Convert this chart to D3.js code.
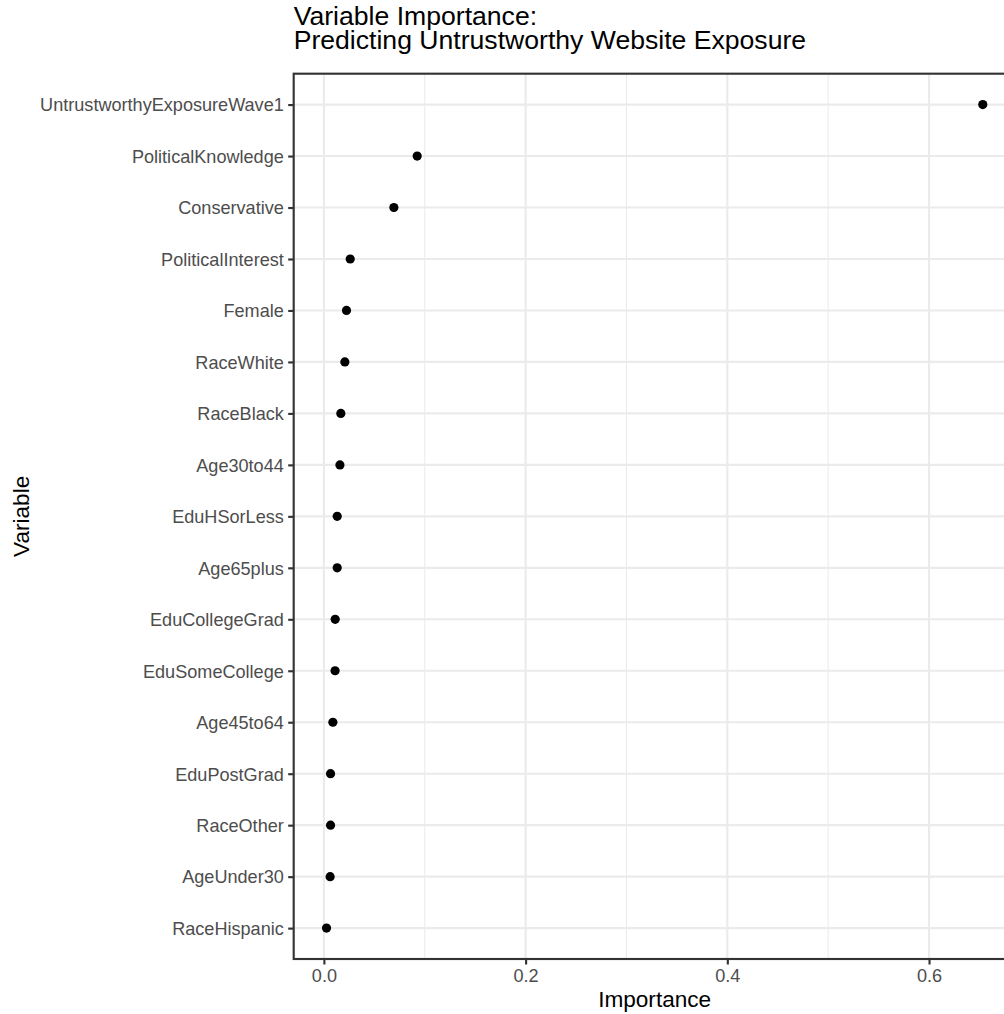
<!DOCTYPE html>
<html>
<head>
<meta charset="utf-8">
<script src="https://cdn.jsdelivr.net/npm/d3@7"></script>
<style>
  html, body { margin: 0; padding: 0; background: #fff; }
  svg { display: block; font-family: "Liberation Sans", Arial, Helvetica, sans-serif; }
</style>
</head>
<body>
<svg id="chart" width="1004" height="1014"></svg>
<script>
// Data (top to bottom)
const variables = [
  "UntrustworthyExposureWave1", "PoliticalKnowledge", "Conservative", "PoliticalInterest",
  "Female", "RaceWhite", "RaceBlack", "Age30to44", "EduHSorLess", "Age65plus",
  "EduCollegeGrad", "EduSomeCollege", "Age45to64", "EduPostGrad", "RaceOther",
  "AgeUnder30", "RaceHispanic"
];
const importance = [
  0.6533, 0.0925, 0.0694, 0.0261,
  0.0224, 0.0208, 0.0168, 0.0159, 0.0132, 0.0132,
  0.0112, 0.0111, 0.0089, 0.0066, 0.0066,
  0.0062, 0.0026
];
const xTicks = [0, 0.2, 0.4, 0.6];
const xMinorTicks = [0.1, 0.3, 0.5];
const titleLines = ["Variable Importance:", "Predicting Untrustworthy Website Exposure"];
const xTitle = "Importance";
const yTitle = "Variable";

const data = variables.map((v, i) => ({ variable: v, value: importance[i] }));

const svg = d3.select("#chart");
const panel = { left: 293.7, top: 73.7, right: 1015.6, bottom: 959 };

const lo = d3.min(importance), hi = d3.max(importance);
const pad = (hi - lo) * 0.05;
const x = d3.scaleLinear().domain([lo - pad, hi + pad]).range([panel.left, panel.right]);
const y = d3.scalePoint().domain(variables).range([panel.top, panel.bottom]).padding(0.6);

// panel background
svg.append("rect").attr("x", panel.left).attr("y", panel.top)
  .attr("width", panel.right - panel.left).attr("height", panel.bottom - panel.top)
  .attr("fill", "#fff");

const grid = svg.append("g");
grid.selectAll("line.minor").data(xMinorTicks).join("line")
  .attr("x1", d => x(d)).attr("x2", d => x(d))
  .attr("y1", panel.top).attr("y2", panel.bottom)
  .attr("stroke", "#EBEBEB").attr("stroke-width", 1.07);
grid.selectAll("line.majorx").data(xTicks).join("line")
  .attr("x1", d => x(d)).attr("x2", d => x(d))
  .attr("y1", panel.top).attr("y2", panel.bottom)
  .attr("stroke", "#EBEBEB").attr("stroke-width", 2.13);
grid.selectAll("line.majory").data(variables).join("line")
  .attr("x1", panel.left).attr("x2", panel.right)
  .attr("y1", d => y(d)).attr("y2", d => y(d))
  .attr("stroke", "#EBEBEB").attr("stroke-width", 2.13);

// points
svg.append("g").selectAll("circle").data(data).join("circle")
  .attr("cx", d => x(d.value)).attr("cy", d => y(d.variable))
  .attr("r", 4.6).attr("fill", "#000");

// panel border
svg.append("rect").attr("x", panel.left).attr("y", panel.top)
  .attr("width", panel.right - panel.left).attr("height", panel.bottom - panel.top)
  .attr("fill", "none").attr("stroke", "#333333").attr("stroke-width", 2.13);

// axes
const xAxis = d3.axisBottom(x).tickValues(xTicks).tickFormat(d3.format(".1f"))
  .tickSize(5.5).tickPadding(4.4);
const gx = svg.append("g").attr("transform", `translate(0,${panel.bottom})`).call(xAxis);
gx.select(".domain").remove();
gx.selectAll(".tick line").attr("stroke", "#333333").attr("stroke-width", 2.13);
gx.selectAll(".tick text").attr("fill", "#4D4D4D").attr("font-size", 18.1)
  .attr("font-family", "Liberation Sans, Arial, sans-serif").attr("dy", "0.71em");

const yAxis = d3.axisLeft(y).tickSize(5.5).tickPadding(4.4);
const gy = svg.append("g").attr("transform", `translate(${panel.left},0)`).call(yAxis);
gy.select(".domain").remove();
gy.selectAll(".tick line").attr("stroke", "#333333").attr("stroke-width", 2.13);
gy.selectAll(".tick text").attr("fill", "#4D4D4D").attr("font-size", 18.1)
  .attr("font-family", "Liberation Sans, Arial, sans-serif").attr("dy", "0.35em");

// axis titles
svg.append("text").attr("x", (panel.left + panel.right) / 2).attr("y", 1006.5)
  .attr("text-anchor", "middle").attr("font-size", 22.6).attr("fill", "#000").text(xTitle);
svg.append("text")
  .attr("transform", `translate(29,${(panel.top + panel.bottom) / 2}) rotate(-90)`)
  .attr("text-anchor", "middle").attr("font-size", 22.6).attr("fill", "#000").text(yTitle);

// title
svg.append("g").selectAll("text").data(titleLines).join("text")
  .attr("x", panel.left).attr("y", (d, i) => 24.8 + i * 23.8)
  .attr("font-size", 26.6).attr("fill", "#000").text(d => d);
</script>
</body>
</html>
